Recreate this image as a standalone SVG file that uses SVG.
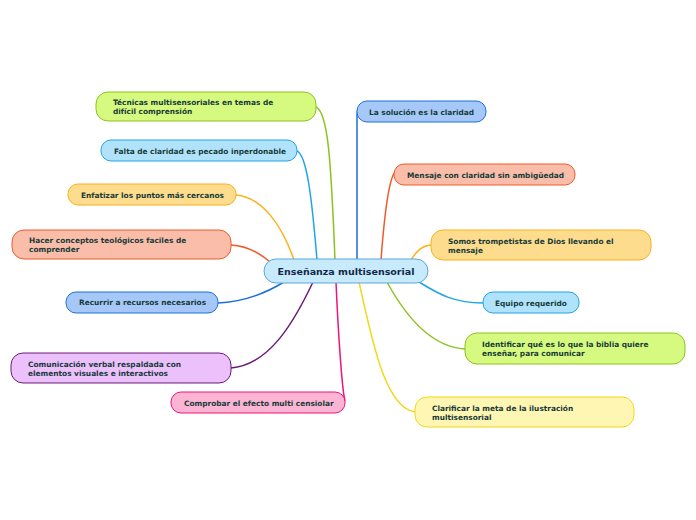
<svg xmlns="http://www.w3.org/2000/svg" width="696" height="520" viewBox="0 0 696 520">
<style>
text{font-family:"DejaVu Sans","Noto Sans",sans-serif;font-weight:bold;font-size:7.4px;fill:#173a38}
.c{fill:none;stroke-width:1.5}
.n{stroke-width:1}
.green{fill:#d6f97f;stroke:#8dc21f}
.cyan{fill:#b0e3fb;stroke:#1ea5e6}
.orange{fill:#fddc8e;stroke:#fbb11a}
.red{fill:#f9bda9;stroke:#f05a28}
.blue{fill:#a6c8f9;stroke:#1d6fd8}
.purple{fill:#ecc0fb;stroke:#6b1a78}
.pink{fill:#fbb4d3;stroke:#f0137a}
.yellow{fill:#fff6b3;stroke:#f2d71a}
</style>
<rect width="696" height="520" fill="#fff"/>
<g id="connectors">
<path class="c" stroke="#8dc21f" d="M316,107 C328,112 331,160 335,260"/>
<path class="c" stroke="#1ea5e6" d="M297,151 C307,155 312,200 317,260"/>
<path class="c" stroke="#fbb11a" d="M236,195 C262,197 282,225 294,260"/>
<path class="c" stroke="#f05a28" d="M231,245 C250,246 262,255 270,262"/>
<path class="c" stroke="#1d6fd8" d="M218,303 C245,302 266,293 284,282"/>
<path class="c" stroke="#6b1a78" d="M231,368 C270,365 295,320 313,282"/>
<path class="c" stroke="#f0137a" d="M345,401 C342,390 338,330 336,282"/>
<path class="c" stroke="#1d6fd8" d="M357,260 L357,115 Q357,109 361,106"/>
<path class="c" stroke="#f05a28" d="M381,260 C384,220 388,180 395,172"/>
<path class="c" stroke="#fbb11a" d="M411,260 C416,252 421,246 431,245"/>
<path class="c" stroke="#1ea5e6" d="M419,282 C440,295 455,303 483,303"/>
<path class="c" stroke="#8dc21f" d="M387,282 C405,315 430,347 465,349"/>
<path class="c" stroke="#f2d71a" d="M359,282 C372,340 385,408 415,412"/>
</g>
<g id="center">
<rect x="264" y="259" width="164" height="24" rx="12" fill="#c7eafc" stroke="#5ba7d8" stroke-width="1"/>
<text x="346" y="274.5" text-anchor="middle" style="font-size:9.5px;fill:#14284a">Enseñanza multisensorial</text>
</g>
<g id="n1"><rect class="n green" x="96" y="92" width="220" height="29" rx="12"/><text x="113" y="105">Técnicas multisensoriales en temas de</text><text x="113" y="114">difícil comprensión</text></g>
<g id="n2"><rect class="n cyan" x="101" y="140" width="196" height="21" rx="10"/><text x="114" y="154">Falta de claridad es pecado inperdonable</text></g>
<g id="n3"><rect class="n orange" x="68" y="184" width="168" height="21" rx="10"/><text x="81" y="198">Enfatizar los puntos más cercanos</text></g>
<g id="n4"><rect class="n red" x="12" y="230" width="219" height="29" rx="12"/><text x="29" y="243">Hacer conceptos teológicos faciles de</text><text x="29" y="252">comprender</text></g>
<g id="n5"><rect class="n blue" x="66" y="292" width="152" height="21" rx="10"/><text x="79" y="305">Recurrir a recursos necesarios</text></g>
<g id="n6"><rect class="n purple" x="11" y="353" width="220" height="30" rx="12"/><text x="28" y="367">Comunicación verbal respaldada con</text><text x="28" y="376">elementos visuales e interactivos</text></g>
<g id="n7"><rect class="n pink" x="171" y="392" width="174" height="21" rx="10"/><text x="184" y="406">Comprobar el efecto multi censiolar</text></g>
<g id="n8"><rect class="n blue" x="357" y="101" width="129" height="21" rx="10"/><text x="369" y="115">La solución es la claridad</text></g>
<g id="n9"><rect class="n red" x="394" y="164" width="181" height="21" rx="10"/><text x="407" y="178">Mensaje con claridad sin ambigüedad</text></g>
<g id="n10"><rect class="n orange" x="431" y="230" width="220" height="30" rx="12"/><text x="448" y="244">Somos trompetistas de Dios llevando el</text><text x="448" y="253">mensaje</text></g>
<g id="n11"><rect class="n cyan" x="483" y="292" width="96" height="21" rx="10"/><text x="495" y="306">Equipo requerido</text></g>
<g id="n12"><rect class="n green" x="465" y="333" width="220" height="31" rx="12"/><text x="482" y="347">Identificar qué es lo que la biblia quiere</text><text x="482" y="356">enseñar, para comunicar</text></g>
<g id="n13"><rect class="n yellow" x="415" y="397" width="219" height="30" rx="12"/><text x="432" y="411">Clarificar la meta de la ilustración</text><text x="432" y="420">multisensorial</text></g>
</svg>
